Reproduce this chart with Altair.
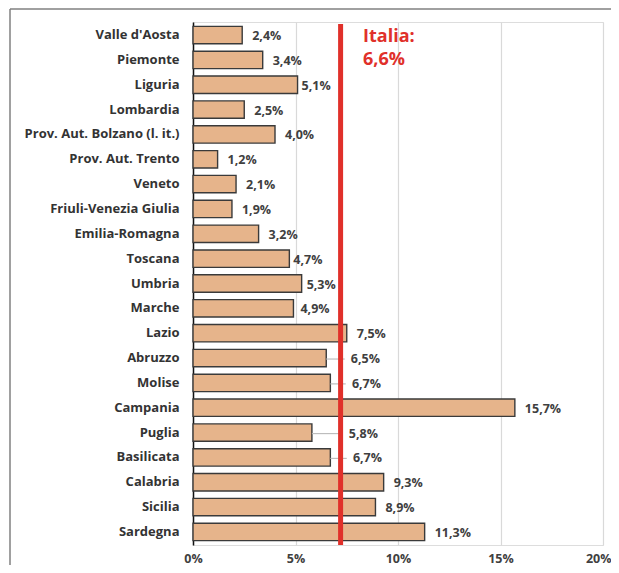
import altair as alt
import pandas as pd

regions = ["Valle d'Aosta", "Piemonte", "Liguria", "Lombardia",
           "Prov. Aut. Bolzano (l. it.)", "Prov. Aut. Trento", "Veneto",
           "Friuli-Venezia Giulia", "Emilia-Romagna", "Toscana", "Umbria",
           "Marche", "Lazio", "Abruzzo", "Molise", "Campania", "Puglia",
           "Basilicata", "Calabria", "Sicilia", "Sardegna"]
values = [2.4, 3.4, 5.1, 2.5, 4.0, 1.2, 2.1, 1.9, 3.2, 4.7, 5.3, 4.9, 7.5,
          6.5, 6.7, 15.7, 5.8, 6.7, 9.3, 8.9, 11.3]
italia_label = ["Italia:", "6,6%"]
italia_line_at = [7.2]          # position of the red line as drawn
x_ticks = [0, 5, 10, 15, 20]

# labels that sit near the red line (gap in px from the bar end)
near_gap_px = {"Liguria": 4, "Toscana": 4, "Umbria": 5, "Marche": 7}
# labels moved to the right of the red line, with a leader line (x in %)
leader_label_x = {"Abruzzo": 7.7, "Molise": 7.75, "Puglia": 7.6, "Basilicata": 7.8}

W, H = 410, 523
PAD_L, PAD_T, PAD_R, PAD_B = 185, 14, 8, 20
px_per_unit = W / 20.0

rows = []
for r, v in zip(regions, values):
    lab = f"{v:.1f}".replace(".", ",") + "%"
    if r in leader_label_x:
        lx = leader_label_x[r]
        leader = True
    else:
        lx = v + near_gap_px.get(r, 10) / px_per_unit
        leader = False
    rows.append({"region": r, "value": v, "label": lab, "lx": lx,
                 "leader": leader, "lend": lx - 0.3})
df = pd.DataFrame(rows)

font = "Open Sans"
FS = 12.5
xscale = alt.Scale(domain=[0, 20], nice=False, zero=True)
yscale = alt.Scale(paddingInner=0.3, paddingOuter=0.175)

y_enc = alt.Y("region:N", sort=regions, scale=yscale,
              axis=alt.Axis(title=None, labelFont=font, labelFontWeight="bold",
                            labelFontSize=13, labelColor="#333333",
                            labelPadding=14, ticks=False, domain=True,
                            domainColor="#111111", domainWidth=1.5,
                            labelLimit=300))

base = alt.Chart(df)

bars = base.mark_bar(fill="#E6B48B", stroke="#3a3a3a", strokeWidth=1.4).encode(
    x=alt.X("value:Q", scale=xscale,
            axis=alt.Axis(title=None, values=x_ticks, labelExpr="datum.value + '%'",
                          labelFont=font, labelFontWeight="bold", labelFontSize=FS,
                          labelColor="#404040", labelPadding=7, ticks=False,
                          labelFlush=False, domain=False, grid=True,
                          labelAlign={"expr": "datum.value == 20 ? 'right' : 'center'"},
                          labelOffset={"expr": "datum.value == 20 ? 8 : 0"},
                          gridColor="#d9d9d9", gridWidth=1.2)),
    y=y_enc,
)

leaders = base.transform_filter("datum.leader").mark_rule(
    color="#bdbdbd", strokeWidth=1.2, yOffset=1).encode(
    x=alt.X("value:Q", scale=xscale),
    x2="lend:Q",
    y=alt.Y("region:N", sort=regions, scale=yscale, bandPosition=0.5),
)

redline = alt.Chart(pd.DataFrame({"x": italia_line_at})).mark_rule(
    color="#E0302A", strokeWidth=5).encode(
    x=alt.X("x:Q", scale=xscale),
    y=alt.value(2),
    y2=alt.value(H),
)

labels = base.mark_text(align="left", baseline="middle", font=font,
                        fontWeight="bold", fontSize=FS, color="#404040", dy=1).encode(
    x=alt.X("lx:Q", scale=xscale),
    y=alt.Y("region:N", sort=regions, scale=yscale),
    text="label:N",
)

it_df = pd.DataFrame({"t": italia_label})
italia1 = alt.Chart(it_df.iloc[[0]]).mark_text(
    align="left", baseline="alphabetic", font=font, fontWeight="bold",
    fontSize=18, color="#E0302A").encode(
    x=alt.value(170), y=alt.value(20), text="t:N")
italia2 = alt.Chart(it_df.iloc[[1]]).mark_text(
    align="left", baseline="alphabetic", font=font, fontWeight="bold",
    fontSize=18, color="#E0302A").encode(
    x=alt.value(170), y=alt.value(43), text="t:N")

frame_top = alt.Chart(pd.DataFrame({"a": [0]})).mark_rule(
    color="#808080", strokeWidth=1.5).encode(
    x=alt.value(-183), x2=alt.value(W + PAD_R), y=alt.value(-13))
frame_left = alt.Chart(pd.DataFrame({"a": [0]})).mark_rule(
    color="#808080", strokeWidth=1.5).encode(
    x=alt.value(-183), y=alt.value(-13), y2=alt.value(H + PAD_B))

chart = alt.layer(frame_top, frame_left, bars, leaders, redline, labels,
                  italia1, italia2).properties(
    width=W, height=H,
    autosize=alt.AutoSizeParams(type="none"),
    padding={"left": PAD_L, "top": PAD_T, "right": PAD_R, "bottom": PAD_B},
).configure_view(stroke=None).configure(background="white")

chart.save("out.html", embed_options={"renderer": "svg", "actions": False})
